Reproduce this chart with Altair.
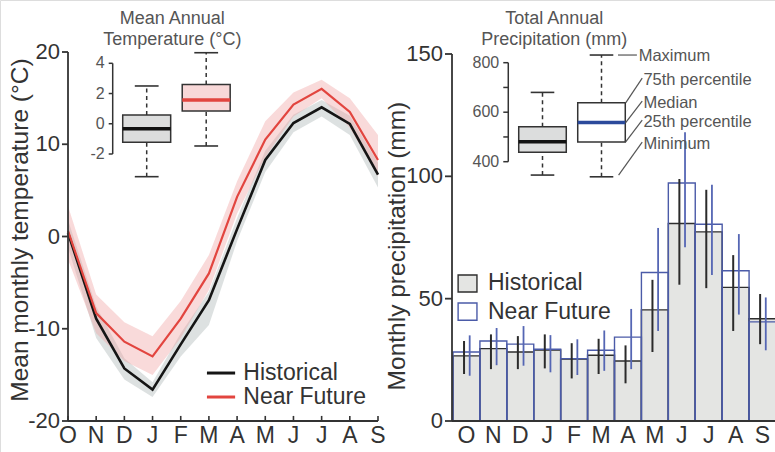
import altair as alt
import pandas as pd

# ---------------- data ----------------
MONTHS = ["O", "N", "D", "J", "F", "M", "A", "M", "J", "J", "A", "S"]
SERIES = ["Historical", "Near Future"]

TEMP_HIST = [0.4, -8.9, -14.3, -16.6, -11.7, -6.9, 0.8, 8.3, 12.3, 14.0, 12.2, 6.7]
TEMP_FUT = [0.6, -8.3, -11.4, -13.0, -8.9, -4.0, 4.3, 10.5, 14.3, 16.0, 13.5, 8.3]
TEMP_HIST_LO = [-1.2, -11.0, -15.5, -17.4, -13.0, -9.6, -0.5, 7.0, 11.3, 13.0, 11.0, 5.3]
TEMP_HIST_HI = [1.8, -7.6, -13.2, -15.8, -10.5, -6.0, 2.0, 9.3, 13.2, 14.8, 13.1, 8.0]
TEMP_FUT_LO = [-2.5, -10.5, -13.5, -15.0, -11.0, -5.8, 2.5, 8.6, 13.0, 15.0, 11.8, 6.5]
TEMP_FUT_HI = [3.3, -6.3, -9.3, -10.8, -7.0, -2.0, 6.0, 12.5, 15.6, 17.0, 15.0, 11.0]

PREC_HIST = [26.6, 29.6, 28.2, 29.0, 25.3, 26.9, 24.5, 45.4, 80.7, 77.3, 54.6, 41.8]
PREC_FUT = [28.2, 32.7, 31.4, 29.3, 25.5, 28.9, 34.3, 60.7, 97.3, 80.4, 61.4, 40.5]
PREC_HIST_LO = [19.2, 21.2, 21.2, 21.5, 17.4, 19.2, 15.4, 28.2, 55.7, 54.3, 36.8, 31.4]
PREC_HIST_HI = [32.7, 35.4, 34.7, 35.4, 31.8, 33.6, 30.9, 57.7, 98.9, 94.5, 67.8, 51.9]
PREC_FUT_LO = [18.5, 22.8, 22.6, 19.9, 18.8, 20.5, 21.2, 36.8, 71.0, 59.7, 43.5, 28.9]
PREC_FUT_HI = [35.0, 38.0, 38.8, 35.1, 33.4, 37.0, 45.8, 78.9, 118.0, 96.6, 76.4, 50.5]

# box statistics: min, q1, median, q3, max
TEMP_BOX_HIST = [-3.5, -1.23, -0.33, 0.58, 2.5]
TEMP_BOX_FUT = [-1.47, 0.84, 1.57, 2.6, 4.7]
PREC_BOX_HIST = [346, 438, 481, 541, 680]
PREC_BOX_FUT = [339, 480, 558, 638, 831]

TEMP_TICKS = [-20, -10, 0, 10, 20]
PREC_TICKS = [0, 50, 100, 150]
TEMP_INSET_TICKS = [-2, 0, 2, 4]
PREC_INSET_TICKS = [400, 500, 600, 700, 800]
PREC_INSET_LABELS = ["400", "", "600", "", "800"]

ANNOT_LABELS = ["Minimum", "25th percentile", "Median", "75th percentile", "Maximum"]
TEMP_TITLE = ["Mean Annual", "Temperature (°C)"]
PREC_TITLE = ["Total Annual", "Precipitation (mm)"]
TEMP_YTITLE = "Mean monthly temperature (°C)"
PREC_YTITLE = "Monthly precipitation (mm)"

# ---------------- style ----------------
FONT = "Liberation Sans"
DARK = "#333333"
GTXT = "#555555"
LINE_COLORS = ["#151515", "#e2453f"]
MONTH_FS = 23
MONTH_DY = 4


def sc(domain, rng):
    return alt.Scale(domain=domain, range=rng, nice=False, zero=False)


def XQ(f, s):
    return alt.X(f, scale=s, axis=None)


def YQ(f, s):
    return alt.Y(f, scale=s, axis=None)


def y_axis(xs, ys, x_at, tick_units, ticks, labels, lo, hi, fsize, lcolor, dx, width):
    df = pd.DataFrame({"v": ticks, "lab": labels})
    b = alt.Chart(df).transform_calculate(xa=str(x_at), xt=str(x_at - tick_units))
    ticks_l = b.mark_rule(color=DARK, strokeWidth=width).encode(x=XQ("xt:Q", xs), x2="xa:Q", y=YQ("v:Q", ys))
    labs = b.mark_text(align="right", baseline="middle", dx=dx, fontSize=fsize, color=lcolor, font=FONT).encode(
        x=XQ("xt:Q", xs), y=YQ("v:Q", ys), text="lab:N")
    dom = alt.Chart(pd.DataFrame({"a": [lo], "b": [hi]})).transform_calculate(xa=str(x_at)).mark_rule(
        color=DARK, strokeWidth=width).encode(x=XQ("xa:Q", xs), y=YQ("a:Q", ys), y2="b:Q")
    return [dom, ticks_l, labs]


# ================= left main panel =================
temp_df = pd.DataFrame({
    "i": list(range(12)), "month": MONTHS,
    "hist": TEMP_HIST, "fut": TEMP_FUT,
    "hist_lo": TEMP_HIST_LO, "hist_hi": TEMP_HIST_HI,
    "fut_lo": TEMP_FUT_LO, "fut_hi": TEMP_FUT_HI,
})
xL = sc([0, 11], [68, 378])
yL = sc([-20, 20], [421, 52])

bt = alt.Chart(temp_df)
band_h = bt.mark_area(color="#bcc3c3", opacity=0.5).encode(
    x=XQ("i:Q", xL), y=YQ("hist_lo:Q", yL), y2="hist_hi:Q")
band_f = bt.mark_area(color="#f0a3a3", opacity=0.4).encode(
    x=XQ("i:Q", xL), y=YQ("fut_lo:Q", yL), y2="fut_hi:Q")
line_h = bt.mark_line(color=LINE_COLORS[0], strokeWidth=2.6).encode(x=XQ("i:Q", xL), y=YQ("hist:Q", yL))
line_f = bt.mark_line(color=LINE_COLORS[1], strokeWidth=2.2).encode(x=XQ("i:Q", xL), y=YQ("fut:Q", yL))

# x axis (inward ticks, month letters)
bx = bt.transform_calculate(t0="-20", t1="-19.45")
xdomL = alt.Chart(pd.DataFrame({"a": [0]})).transform_calculate(x0="0", x1="11", yy="-20").mark_rule(
    color=DARK, strokeWidth=1.8).encode(x=XQ("x0:Q", xL), x2="x1:Q", y=YQ("yy:Q", yL))
xticksL = bx.mark_rule(color=DARK, strokeWidth=1.6).encode(x=XQ("i:Q", xL), y=YQ("t0:Q", yL), y2="t1:Q")
xlabL = bx.mark_text(baseline="top", align="center", dy=MONTH_DY, fontSize=MONTH_FS, color=DARK,
                     font=FONT).encode(x=XQ("i:Q", xL), y=YQ("t0:Q", yL), text="month:N")
yaxL = y_axis(xL, yL, 0, 6 / 28.18, TEMP_TICKS, [str(t) for t in TEMP_TICKS], -20, 20, 22, DARK, -2, 1.8)
ytitleL = alt.Chart(pd.DataFrame({"t": [TEMP_YTITLE]})).transform_calculate(tx="-1.42", ty="0.7").mark_text(
    angle=270, align="center", baseline="alphabetic", fontSize=24.5, color=DARK, font=FONT).encode(
    x=XQ("tx:Q", xL), y=YQ("ty:Q", yL), text="t:N")

leg_df = pd.DataFrame({"series": SERIES, "row": [0, 1]})
bl = alt.Chart(leg_df).transform_calculate(x0="4.93", x1="5.93", xt="6.22", yy="-14.8 - 2.6 * datum.row")
legL_lines = bl.mark_rule(strokeWidth=3).encode(
    x=XQ("x0:Q", xL), x2="x1:Q", y=YQ("yy:Q", yL),
    color=alt.Color("series:N", scale=alt.Scale(domain=SERIES, range=LINE_COLORS), legend=None))
legL_text = bl.mark_text(align="left", baseline="middle", fontSize=23, color=DARK, font=FONT).encode(
    x=XQ("xt:Q", xL), y=YQ("yy:Q", yL), text="series:N")

left_main = alt.layer(band_h, band_f, line_h, line_f, xdomL, xticksL, xlabL, *yaxL, ytitleL,
                      legL_lines, legL_text)


# ================= box-plot insets =================
def box_frame(hist, fut):
    rows = []
    for k, (s, v) in enumerate(zip(SERIES, [hist, fut])):
        rows.append({"series": s, "pos": k + 1, "mn": v[0], "q1": v[1], "med": v[2], "q3": v[3], "mx": v[4]})
    return pd.DataFrame(rows)


def inset(df, xs, ys, fills, medcols, titles, tx, ty0, tdy):
    b = alt.Chart(df).transform_calculate(
        bx0="datum.pos - 0.403", bx1="datum.pos + 0.403",
        cx0="datum.pos - 0.2", cx1="datum.pos + 0.2")
    wh = b.mark_rule(color=DARK, strokeWidth=1.5, strokeDash=[4, 3.5]).encode(
        x=XQ("pos:Q", xs), y=YQ("q3:Q", ys), y2="mx:Q")
    wl = b.mark_rule(color=DARK, strokeWidth=1.5, strokeDash=[4, 3.5]).encode(
        x=XQ("pos:Q", xs), y=YQ("mn:Q", ys), y2="q1:Q")
    ch = b.mark_rule(color=DARK, strokeWidth=1.6).encode(x=XQ("cx0:Q", xs), x2="cx1:Q", y=YQ("mx:Q", ys))
    cl = b.mark_rule(color=DARK, strokeWidth=1.6).encode(x=XQ("cx0:Q", xs), x2="cx1:Q", y=YQ("mn:Q", ys))
    box = b.mark_rect(stroke=DARK, strokeWidth=1.5).encode(
        x=XQ("bx0:Q", xs), x2="bx1:Q", y=YQ("q1:Q", ys), y2="q3:Q",
        fill=alt.Fill("series:N", scale=alt.Scale(domain=SERIES, range=fills), legend=None))
    med = b.mark_rule(strokeWidth=3.5).encode(
        x=XQ("bx0:Q", xs), x2="bx1:Q", y=YQ("med:Q", ys),
        color=alt.Color("series:N", scale=alt.Scale(domain=SERIES, range=medcols), legend=None))
    tdf = pd.DataFrame({"t": titles, "row": [0, 1]})
    tt = alt.Chart(tdf).transform_calculate(
        tx=str(tx), ty="%f - %f * datum.row" % (ty0, tdy)).mark_text(
        align="center", baseline="middle", fontSize=18, color=GTXT, font=FONT).encode(
        x=XQ("tx:Q", xs), y=YQ("ty:Q", ys), text="t:N")
    return [wh, wl, ch, cl, box, med, tt]


# temperature inset
xTI = sc([0, 3], [87.2, 265.7])
yTI = sc([-2, 4], [154, 63.3])
yaxTI = y_axis(xTI, yTI, 0.4286, 4 / 59.5, TEMP_INSET_TICKS, [str(t) for t in TEMP_INSET_TICKS],
               -2, 4, 16, GTXT, -4, 1.5)
left_inset = alt.layer(*yaxTI, *inset(box_frame(TEMP_BOX_HIST, TEMP_BOX_FUT), xTI, yTI,
                                      ["#dcdddd", "#f8d8d8"], ["#111111", "#e2453f"],
                                      TEMP_TITLE, 1.43, 6.93, 1.39))

# precipitation inset
xPI = sc([0, 3], [483.5, 660.5])
yPI = sc([400, 800], [161.7, 62.7])
yaxPI = y_axis(xPI, yPI, 0.42, 5 / 59.0, PREC_INSET_TICKS, PREC_INSET_LABELS, 400, 800, 16, GTXT, -4, 1.5)
prec_inset_layers = inset(box_frame(PREC_BOX_HIST, PREC_BOX_FUT), xPI, yPI,
                          ["#dcdddd", "#ffffff"], ["#111111", "#2b4a9b"],
                          PREC_TITLE, 1.20, 976.6, 84.9)

# annotation of the Near Future box (layout positions only)
ann_df = pd.DataFrame({"label": ANNOT_LABELS, "stat": PREC_BOX_FUT})
ANN_X0 = [2.29, 2.41, 2.41, 2.41, 2.28]
ANN_DY0 = [7, 0, 0, 0, 0]
ANN_X1 = [2.69, 2.69, 2.69, 2.69, 2.60]
ANN_TX = [2.71, 2.71, 2.71, 2.71, 2.63]
ANN_TY = [471, 560, 637, 730, 826]
ann_df["x0"] = ANN_X0
ann_df["y0"] = ann_df["stat"] + pd.Series(ANN_DY0)
ann_df["x1"] = ANN_X1
ann_df["tx"] = ANN_TX
ann_df["ty"] = ANN_TY
ann_df["y1"] = [t + 8 for t in ANN_TY[:4]] + [PREC_BOX_FUT[4]]
ba = alt.Chart(ann_df)
ann_lines = ba.mark_rule(color="#555555", strokeWidth=1.2).encode(
    x=XQ("x0:Q", xPI), x2="x1:Q", y=YQ("y0:Q", yPI), y2="y1:Q")
ann_text = ba.mark_text(align="left", baseline="middle", fontSize=16.5, color=GTXT, font=FONT).encode(
    x=XQ("tx:Q", xPI), y=YQ("ty:Q", yPI), text="label:N")
right_inset = alt.layer(*yaxPI, *prec_inset_layers, ann_lines, ann_text)

# ================= right main panel =================
rows = []
for s, v, lo, hi in [("Historical", PREC_HIST, PREC_HIST_LO, PREC_HIST_HI),
                     ("Near Future", PREC_FUT, PREC_FUT_LO, PREC_FUT_HI)]:
    for i in range(12):
        rows.append({"series": s, "i": i, "month": MONTHS[i], "v": v[i], "lo": lo[i], "hi": hi[i]})
prec_df = pd.DataFrame(rows)

xR = sc([-0.5, 11.5], [453, 776])
yR = sc([0, 150], [421, 54])
AX_R = -0.537  # y-axis position of right panel (just left of first bar)

bp = alt.Chart(prec_df).transform_calculate(
    x0="datum.i - 0.5", x1="datum.i + 0.5", z="0",
    xe="datum.series == 'Historical' ? datum.i - 0.09 : datum.i + 0.12")
bars_h = bp.transform_filter(alt.datum.series == "Historical").mark_rect(
    fill="#e4e5e3", stroke="#2e2e2e", strokeWidth=1.4).encode(
    x=XQ("x0:Q", xR), x2="x1:Q", y=YQ("v:Q", yR), y2="z:Q")
bars_f = bp.transform_filter(alt.datum.series == "Near Future").mark_rect(
    fillOpacity=0, stroke="#4b5ba8", strokeWidth=1.4).encode(
    x=XQ("x0:Q", xR), x2="x1:Q", y=YQ("v:Q", yR), y2="z:Q")
err_h = bp.transform_filter(alt.datum.series == "Historical").mark_rule(
    color="#2b2b2b", strokeWidth=2).encode(x=XQ("xe:Q", xR), y=YQ("lo:Q", yR), y2="hi:Q")
err_f = bp.transform_filter(alt.datum.series == "Near Future").mark_rule(
    color="#5566b4", strokeWidth=1.8).encode(x=XQ("xe:Q", xR), y=YQ("lo:Q", yR), y2="hi:Q")

mdf = pd.DataFrame({"i": list(range(12)), "month": MONTHS})
xlabR = alt.Chart(mdf).transform_calculate(z="0").mark_text(
    baseline="top", align="center", dy=MONTH_DY, fontSize=MONTH_FS, color=DARK, font=FONT).encode(
    x=XQ("i:Q", xR), y=YQ("z:Q", yR), text="month:N")
xdomR = alt.Chart(pd.DataFrame({"a": [0]})).transform_calculate(x0=str(AX_R), x1="11.5", yy="0").mark_rule(
    color=DARK, strokeWidth=1.8).encode(x=XQ("x0:Q", xR), x2="x1:Q", y=YQ("yy:Q", yR))
yaxR = y_axis(xR, yR, AX_R, 7 / 26.9, PREC_TICKS, [str(t) for t in PREC_TICKS], 0, 150, 22, DARK, -2, 1.8)
ytitleR = alt.Chart(pd.DataFrame({"t": [PREC_YTITLE]})).transform_calculate(tx="-2.283", ty="71.5").mark_text(
    angle=270, align="center", baseline="alphabetic", fontSize=24.5, color=DARK, font=FONT).encode(
    x=XQ("tx:Q", xR), y=YQ("ty:Q", yR), text="t:N")

blr = alt.Chart(leg_df).transform_calculate(
    sx0="-0.31", sx1="0.39", xt="0.80",
    sy0="59.7 - 11.5 * datum.row", sy1="52.7 - 11.5 * datum.row", yy="56.2 - 11.5 * datum.row")
legR_sq = blr.mark_rect(strokeWidth=1.4).encode(
    x=XQ("sx0:Q", xR), x2="sx1:Q", y=YQ("sy0:Q", yR), y2="sy1:Q",
    fill=alt.Fill("series:N", scale=alt.Scale(domain=SERIES, range=["#e4e5e3", "#ffffff"]), legend=None),
    stroke=alt.Stroke("series:N", scale=alt.Scale(domain=SERIES, range=["#2e2e2e", "#4b5ba8"]), legend=None))
legR_text = blr.mark_text(align="left", baseline="middle", fontSize=23, color=DARK, font=FONT).encode(
    x=XQ("xt:Q", xR), y=YQ("yy:Q", yR), text="series:N")

right_main = alt.layer(bars_h, bars_f, err_h, err_f, xdomR, xlabR, *yaxR, ytitleR, legR_sq, legR_text)

chart = alt.layer(left_main, left_inset, right_main, right_inset).resolve_scale(
    x="independent", y="independent", color="independent", fill="independent", stroke="independent"
).properties(
    width=775, height=452, autosize=alt.AutoSizeParams(type="none"), padding=0, background="white"
).configure_view(stroke=None).configure(font=FONT)

chart.save("out.html", embed_options={"renderer": "svg", "actions": False})
